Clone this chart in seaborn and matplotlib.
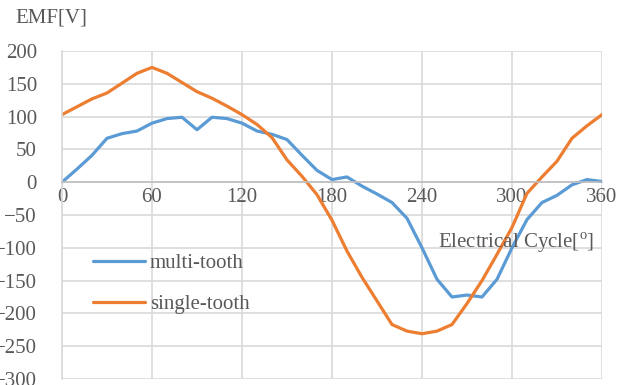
import numpy as np
import pandas as pd
import matplotlib
matplotlib.use("Agg")
import matplotlib.pyplot as plt
import seaborn as sns

angle = list(range(0, 361, 10))
multi_tooth = [0, 20, 41, 67, 74, 78, 90, 97, 99, 80, 99, 97, 90, 78, 73, 65, 41, 18, 4, 8,
               -6, -18, -31, -55, -100, -148, -175, -172, -175, -148, -100, -57, -31, -20, -4, 4, 1]
single_tooth = [103, 115, 127, 136, 151, 166, 175, 166, 152, 138, 128, 116, 103, 88, 68, 34, 9, -19, -58, -105,
                -145, -181, -217, -227, -231, -227, -217, -185, -150, -110, -69, -17, 8, 32, 67, 86, 103]

df = pd.DataFrame({
    "angle": angle * 2,
    "emf": multi_tooth + single_tooth,
    "series": ["multi-tooth"] * len(angle) + ["single-tooth"] * len(angle),
})

sns.set_style("white")
plt.rcParams["font.family"] = ["Liberation Serif", "DejaVu Serif"]
plt.rcParams["mathtext.fontset"] = "custom"
plt.rcParams["mathtext.rm"] = "Liberation Serif"
text_color = "#595959"
fs = 15

fig = plt.figure(figsize=(6.17, 3.85), dpi=100)
ax = fig.add_axes([62 / 617, 1 - 379 / 385, 540 / 617, 328 / 385])

sns.lineplot(data=df, x="angle", y="emf", hue="series",
             palette=["#5b9bd5", "#ed7d31"], linewidth=2.3, ax=ax)

ax.set_xlim(0, 360)
ax.set_ylim(-300, 200)
ax.set_xticks(range(0, 361, 60))
ax.set_yticks(range(-300, 201, 50))
ax.grid(True, color="#d9d9d9", linewidth=1.2)
ax.set_axisbelow(True)

for s in ["top", "right"]:
    ax.spines[s].set_visible(False)
ax.spines["left"].set_color("#d9d9d9")
ax.spines["left"].set_linewidth(1.2)
ax.spines["bottom"].set_position(("data", 0))
ax.spines["bottom"].set_color("#bfbfbf")
ax.spines["bottom"].set_linewidth(1.2)

ax.tick_params(axis="both", length=0, labelsize=fs, labelcolor=text_color)
ax.tick_params(axis="y", pad=18)
ax.tick_params(axis="x", pad=4)

ax.set_xlabel("")
ax.set_ylabel("")
fig.text(15 / 617, 1 - 18 / 385, "EMF[V]", fontsize=fs, color=text_color, va="center", ha="left")
fig.text(594 / 617, 1 - 243 / 385, r"Electrical Cycle[$^{\mathrm{o}}$]", fontsize=fs,
         color=text_color, va="center", ha="right")

leg = ax.legend(loc="upper left", bbox_to_anchor=(0.022, 0.44), frameon=False,
                fontsize=fs, handlelength=2.5, labelspacing=1.05, handletextpad=0.25)
for t in leg.get_texts():
    t.set_color(text_color)

fig.savefig("out.png", dpi=100)
